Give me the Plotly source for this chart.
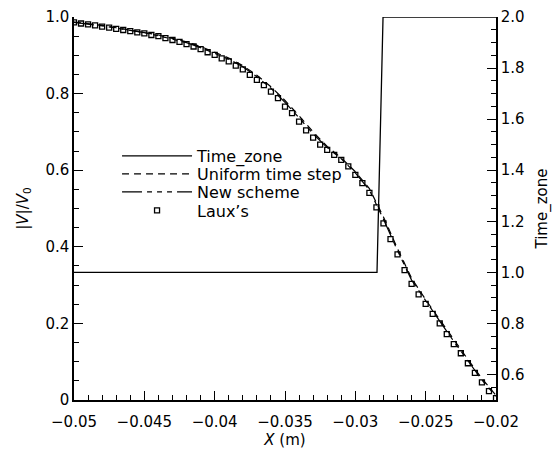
import plotly.graph_objects as go

# ---- data ----
laux_x = [-0.05, -0.0495, -0.049, -0.0485, -0.048, -0.0475, -0.047, -0.0465, -0.046, -0.0455,
          -0.045, -0.0445, -0.044, -0.0435, -0.043, -0.0425, -0.042, -0.0415, -0.041, -0.0405,
          -0.04, -0.0395, -0.039, -0.0385, -0.038, -0.0375, -0.037, -0.0365, -0.036, -0.0355,
          -0.035, -0.0345, -0.034, -0.0335, -0.033, -0.0325, -0.032, -0.0315, -0.031, -0.0305,
          -0.03, -0.0295, -0.029, -0.0285, -0.028, -0.0275, -0.027, -0.0265, -0.026, -0.0255,
          -0.025, -0.0245, -0.024, -0.0235, -0.023, -0.0225, -0.022, -0.0215, -0.021, -0.0205,
          -0.02]
laux_y = [0.986, 0.983, 0.981, 0.978, 0.975, 0.972, 0.969, 0.966, 0.963, 0.960,
          0.957, 0.953, 0.950, 0.945, 0.940, 0.935, 0.929, 0.923, 0.916, 0.908,
          0.901, 0.892, 0.884, 0.873, 0.863, 0.849, 0.836, 0.822, 0.805, 0.788,
          0.766, 0.749, 0.727, 0.704, 0.685, 0.667, 0.653, 0.640, 0.627, 0.610,
          0.588, 0.566, 0.541, 0.503, 0.461, 0.420, 0.380, 0.339, 0.303, 0.276,
          0.251, 0.225, 0.200, 0.172, 0.146, 0.122, 0.096, 0.071, 0.046, 0.023,
          0.005]

line_x = [-0.05, -0.049, -0.048, -0.047, -0.046, -0.045, -0.044, -0.043, -0.042, -0.041,
          -0.04, -0.039, -0.038, -0.037, -0.036, -0.035, -0.034, -0.033, -0.032, -0.031,
          -0.03, -0.029, -0.028, -0.027, -0.026, -0.025, -0.024, -0.023, -0.022, -0.021,
          -0.02]
uniform_y = [0.987, 0.983, 0.978, 0.972, 0.966, 0.960, 0.953, 0.944, 0.935, 0.923,
             0.909, 0.893, 0.873, 0.848, 0.818, 0.782, 0.742, 0.700, 0.662, 0.632,
             0.596, 0.552, 0.478, 0.395, 0.318, 0.262, 0.210, 0.157, 0.106, 0.056,
             0.012]
newscheme_y = [0.986, 0.982, 0.977, 0.971, 0.965, 0.959, 0.951, 0.942, 0.933, 0.920,
               0.906, 0.890, 0.870, 0.844, 0.814, 0.777, 0.737, 0.695, 0.659, 0.630,
               0.593, 0.548, 0.472, 0.390, 0.313, 0.258, 0.206, 0.153, 0.102, 0.052,
               0.010]

zone_x = [-0.05, -0.02846, -0.02803, -0.02]
zone_y = [1.0, 1.0, 2.0, 2.0]

x_ticks = [-0.05, -0.045, -0.04, -0.035, -0.03, -0.025, -0.02]
x_ticktext = ["\u22120.05", "\u22120.045", "\u22120.04", "\u22120.035", "\u22120.03", "\u22120.025", "\u22120.02"]
y_ticks = [0, 0.2, 0.4, 0.6, 0.8, 1.0]
y_ticktext = ["0", "0.2", "0.4", "0.6", "0.8", "1.0"]
y2_ticks = [0.6, 0.8, 1.0, 1.2, 1.4, 1.6, 1.8, 2.0]
y2_ticktext = ["0.6", "0.8", "1.0", "1.2", "1.4", "1.6", "1.8", "2.0"]

FONT = "DejaVu Sans"

fig = go.Figure()
fig.add_trace(go.Scatter(x=zone_x, y=zone_y, yaxis="y2", mode="lines", name="Time_zone",
                         legend="legend", line=dict(color="black", width=1.3)))
fig.add_trace(go.Scatter(x=line_x, y=uniform_y, mode="lines", name="Uniform time step",
                         legend="legend2", line=dict(color="black", width=1.2, dash="7px,5px")))
fig.add_trace(go.Scatter(x=line_x, y=newscheme_y, mode="lines", name="New scheme",
                         legend="legend3",
                         line=dict(color="black", width=1.2,
                                   dash="20px,5px,5px,5px,5px,5px,5px,5px")))
fig.add_trace(go.Scatter(x=laux_x, y=laux_y, mode="markers", name="Laux\u2019s",
                         legend="legend4",
                         marker=dict(symbol="square-open", size=5, color="black",
                                     line=dict(color="black", width=1.3))))

axis_common = dict(showgrid=False, zeroline=False, showline=True, linecolor="black",
                   linewidth=1.5, ticks="inside", ticklen=9, tickwidth=1.2, tickcolor="black",
                   automargin=False,
                   tickfont=dict(family=FONT, size=15, color="black"))


def leg(ypix):
    return dict(x=0.102, y=(400 - ypix) / 383, xanchor="left", yanchor="middle",
                bgcolor="rgba(0,0,0,0)", borderwidth=0,
                font=dict(family=FONT, size=16, color="black"), itemwidth=70)


fig.update_layout(
    width=552, height=454,
    margin=dict(l=74, r=56, t=17, b=54, autoexpand=False),
    paper_bgcolor="white", plot_bgcolor="white",
    font=dict(family=FONT, size=15, color="black"),
    showlegend=True,
    legend=leg(156), legend2=leg(174), legend3=leg(192), legend4=leg(210.5),
    xaxis=dict(range=[-0.05, -0.02], tickmode="array", tickvals=x_ticks, ticktext=x_ticktext,
               ticklabelstandoff=7,
               minor=dict(ticks="inside", ticklen=5, dtick=0.001, tick0=-0.05, tickcolor="black", tickwidth=1.1),
               title=dict(text="<i>X</i> (m)", font=dict(family=FONT, size=15), standoff=4),
               **axis_common),
    yaxis=dict(range=[0, 1.0], tickmode="array", tickvals=y_ticks, ticktext=y_ticktext,
               minor=dict(ticks="inside", ticklen=5, dtick=0.05, tick0=0, tickcolor="black", tickwidth=1.1),
               title=dict(text="|<i>V</i>|/<i>V</i><sub>0</sub>", font=dict(family=FONT, size=15), standoff=13),
               **axis_common),
    yaxis2=dict(range=[0.5, 2.0], overlaying="y", side="right", anchor="x",
                tickmode="array", tickvals=y2_ticks, ticktext=y2_ticktext,
                minor=dict(ticks="inside", ticklen=5, dtick=0.05, tick0=0.5, tickcolor="black", tickwidth=1.1),
                title=dict(text="Time_zone", font=dict(family=FONT, size=15), standoff=14),
                **axis_common),
)

fig.write_html("out.html")
